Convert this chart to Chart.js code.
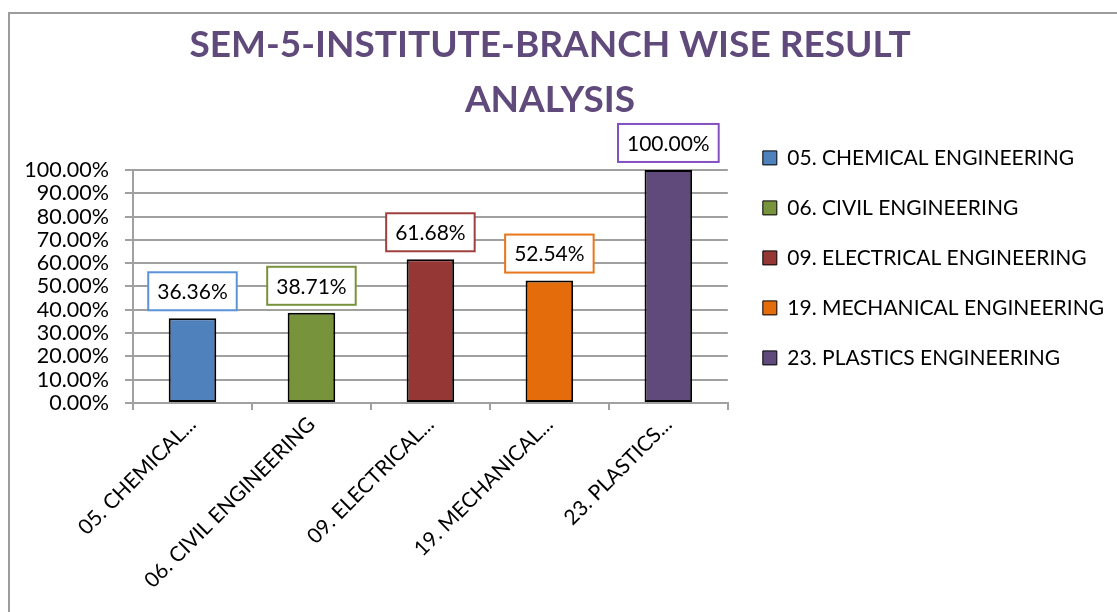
<!DOCTYPE html>
<html>
<head>
<meta charset="utf-8">
<title>SEM-5 Branch wise result</title>
<script src="https://cdn.jsdelivr.net/npm/chart.js@4.4.1/dist/chart.umd.min.js"></script>
<style>
  html, body { margin: 0; padding: 0; background: #fff; overflow: hidden; }
  #frame {
    position: absolute; left: 8px; top: 12px; width: 1200px; height: 700px;
    border-left: 2px solid #9c9c9c; border-top: 2px solid #9c9c9c;
  }
  #wrap { position: absolute; left: 0; top: 0; width: 1117px; height: 612px; }
</style>
</head>
<body>
<div id="frame"></div>
<div id="wrap"><canvas id="result-chart"></canvas></div>
<script>
// dados do grafico
const categories = [
    '05. CHEMICAL ENGINEERING',
    '06. CIVIL ENGINEERING',
    '09. ELECTRICAL ENGINEERING',
    '19. MECHANICAL ENGINEERING',
    '23. PLASTICS ENGINEERING'
];
const axisLabels = ['05. CHEMICAL...', '06. CIVIL ENGINEERING', '09. ELECTRICAL...', '19. MECHANICAL...', '23. PLASTICS...'];
const results = [36.36, 38.71, 61.68, 52.54, 100.00];
const barColors = ['#4F81BD', '#77933C', '#953735', '#E46C0A', '#604A7B'];
const labelBorders = ['#5B93D8', '#77933C', '#A0403E', '#E8761A', '#8450C0'];

const FONT = 'Lato';

// caixas com o valor em cima de cada barra
const valueBoxes = {
    id: 'valueBoxes',
    afterDatasetsDraw(chart) {
        const ctx = chart.ctx;
        const meta = chart.getDatasetMeta(0);
        ctx.save();
        ctx.font = '21px ' + FONT;
        ctx.textAlign = 'center';
        ctx.textBaseline = 'middle';
        meta.data.forEach((bar, i) => {
            const txt = results[i].toFixed(2) + '%';
            const w = ctx.measureText(txt).width + 18;
            const h = 38;
            const bottom = bar.y - 8;
            ctx.fillStyle = '#fff';
            ctx.fillRect(bar.x - w / 2, bottom - h, w, h);
            ctx.lineWidth = 2;
            ctx.strokeStyle = labelBorders[i];
            ctx.strokeRect(bar.x - w / 2, bottom - h, w, h);
            ctx.fillStyle = '#000';
            ctx.fillText(txt, bar.x, bottom - h / 2 + 1);
        });
        ctx.restore();
    }
};

// pequenos ajustes de posicao da legenda e do titulo
const layoutNudge = {
    id: 'layoutNudge',
    afterLayout(chart) {
        chart.legend.left += 6;
        chart.legend.right += 6;
        chart.titleBlock.left -= 4;
        chart.titleBlock.right -= 4;
    }
};

const ctx = document.getElementById('result-chart').getContext('2d');
new Chart(ctx, {
    type: 'bar',
    data: {
        labels: categories,
        datasets: [{
            data: results,
            backgroundColor: barColors,
            borderColor: '#000',
            borderWidth: 2,
            borderSkipped: false,
            barPercentage: 0.4,
            categoryPercentage: 1
        }]
    },
    plugins: [valueBoxes, layoutNudge],
    options: {
        responsive: true,
        maintainAspectRatio: false,
        animation: false,
        layout: { padding: { left: 0, right: 9, top: 0, bottom: 0 } },
        plugins: {
            tooltip: { enabled: false },
            title: {
                display: true,
                text: ['SEM-5-INSTITUTE-BRANCH WISE RESULT', 'ANALYSIS'],
                color: '#604A7B',
                font: { family: FONT, weight: 'bold', size: 37, lineHeight: 1.486 },
                padding: { top: 18, bottom: 42 }
            },
            legend: {
                position: 'right',
                align: 'start',
                maxWidth: 389,
                title: { display: true, text: '', padding: { top: 104, bottom: 0 } },
                labels: {
                    boxWidth: 14,
                    boxHeight: 14,
                    padding: 29,
                    color: '#000',
                    font: { family: FONT, size: 21 },
                    generateLabels: () => categories.map((c, i) => ({
                        text: c,
                        fillStyle: barColors[i],
                        strokeStyle: '#000',
                        fontColor: '#000',
                        lineWidth: 1,
                        index: i
                    }))
                }
            }
        },
        scales: {
            x: {
                afterFit: (scale) => { scale.height = 209; },
                grid: { drawOnChartArea: false, color: '#a0a0a0', lineWidth: 2, tickLength: 7 },
                border: { color: '#a0a0a0', width: 2 },
                ticks: {
                    autoSkip: false,
                    minRotation: 45,
                    maxRotation: 45,
                    padding: 2,
                    color: '#000',
                    font: { family: FONT, size: 21 },
                    callback: (v, i) => axisLabels[i]
                }
            },
            y: {
                min: 0,
                max: 100,
                afterFit: (scale) => { scale.width = 133; },
                grid: { color: '#a0a0a0', lineWidth: 2, tickLength: 8 },
                border: { color: '#a0a0a0', width: 2 },
                ticks: {
                    stepSize: 10,
                    count: 11,
                    autoSkip: false,
                    padding: 16,
                    color: '#000',
                    font: { family: FONT, size: 21.5, lineHeight: 0.9 },
                    callback: (v) => v.toFixed(2) + '%'
                }
            }
        }
    }
});
</script>
</body>
</html>
